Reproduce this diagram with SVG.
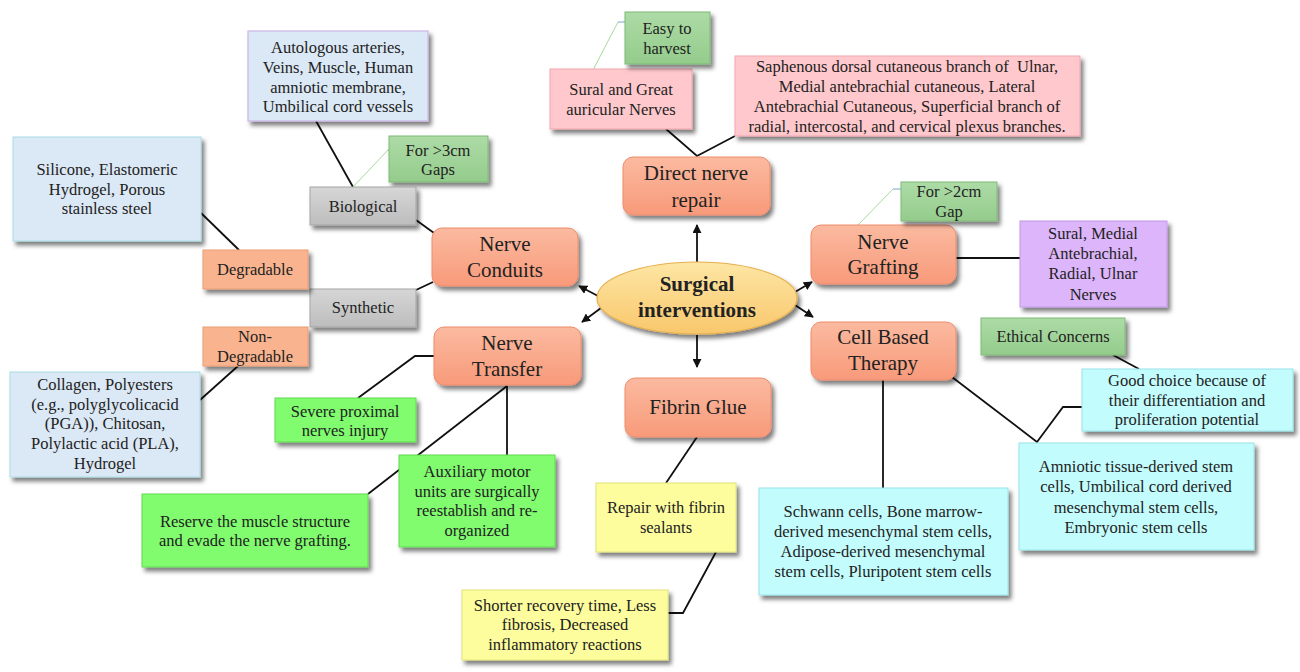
<svg xmlns="http://www.w3.org/2000/svg" width="1300" height="672" viewBox="0 0 1300 672">
<defs>
<filter id="sh" x="-10%" y="-10%" width="125%" height="135%">
<feDropShadow dx="3" dy="4" stdDeviation="2" flood-color="#000" flood-opacity="0.5"/>
</filter>
<linearGradient id="gMain" x1="0" y1="0" x2="0" y2="1"><stop offset="0" stop-color="#fbbaa0"/><stop offset="1" stop-color="#f89a7a"/></linearGradient>
<linearGradient id="gEll" x1="0" y1="0" x2="0" y2="1"><stop offset="0" stop-color="#fde6a4"/><stop offset="1" stop-color="#f9c76c"/></linearGradient>
<linearGradient id="gGreen" x1="0" y1="0" x2="0" y2="1"><stop offset="0" stop-color="#addba6"/><stop offset="1" stop-color="#94cc8c"/></linearGradient>
<linearGradient id="gGray" x1="0" y1="0" x2="0" y2="1"><stop offset="0" stop-color="#d6d6d6"/><stop offset="1" stop-color="#bdbdbd"/></linearGradient>
<marker id="ar" viewBox="0 0 10 10" refX="9" refY="5" markerWidth="9" markerHeight="9" markerUnits="userSpaceOnUse" orient="auto">
<path d="M0,0 L10,5 L0,10 z" fill="#111"/>
</marker>
</defs>
<style>
text{font-family:"Liberation Serif","Times New Roman",serif;fill:#222;text-anchor:middle}
.t{font-size:16.5px}
.m{font-size:21px}
.b{font-size:21px;font-weight:bold}
.main{fill:url(#gMain);stroke:#ee8c6c;stroke-width:1;filter:url(#sh)}
.ell{fill:url(#gEll);stroke:#e6b050;stroke-width:1.2;filter:url(#sh)}
.lblue{fill:#dbe8f5;stroke:#a8dde4;stroke-width:1;filter:url(#sh)}
.green{fill:url(#gGreen);stroke:#7fb977;stroke-width:1;filter:url(#sh)}
.gray{fill:url(#gGray);stroke:#a5a5a5;stroke-width:1;filter:url(#sh)}
.orng{fill:#f9b48f;stroke:#ea9d75;stroke-width:1;filter:url(#sh)}
.pink{fill:#ffc8cc;stroke:#f2a7ae;stroke-width:1;filter:url(#sh)}
.lav{fill:#dcb5fa;stroke:#c29ae8;stroke-width:1;filter:url(#sh)}
.bg{fill:#80fc6e;stroke:#62d752;stroke-width:1;filter:url(#sh)}
.yel{fill:#fdfd9e;stroke:#e2e27a;stroke-width:1;filter:url(#sh)}
.cyan{fill:#c3fcfd;stroke:#98e4ea;stroke-width:1;filter:url(#sh)}
.ln{fill:none;stroke:#111;stroke-width:1.8}
.arw{fill:none;stroke:#111;stroke-width:1.8;marker-end:url(#ar)}
.thin{fill:none;stroke:#a9d8a0;stroke-width:1}
.tick{fill:none;stroke:#8fb4d8;stroke-width:1.2}
</style>
<rect width="1300" height="672" fill="#fff"/>

<g id="connectors">
<line class="arw" x1="697" y1="262" x2="697" y2="225"/>
<line class="arw" x1="697" y1="335" x2="697" y2="367"/>
<line class="arw" x1="598" y1="296" x2="579" y2="286"/>
<line class="arw" x1="601" y1="308" x2="582" y2="322"/>
<line class="arw" x1="795" y1="292" x2="812" y2="282"/>
<line class="arw" x1="795" y1="305" x2="813" y2="317"/>
<polyline class="ln" points="316,121 353,187"/>
<polyline class="thin" points="353,187 388,150"/>
<polyline class="tick" points="388,150 392,150"/>
<polyline class="ln" points="416,220 434,233"/>
<polyline class="ln" points="201,213 239,250"/>
<polyline class="ln" points="416,290 433,282"/>
<polyline class="ln" points="238,366 200,400"/>
<polyline class="ln" points="434,356 415,356 358,398"/>
<polyline class="ln" points="507,386 368,494"/>
<polyline class="ln" points="507,386 507,455"/>
<polyline class="ln" points="697,437 666,483"/>
<polyline class="ln" points="716,552 683,613 668,613"/>
<polyline class="ln" points="666,129 697,156 735,136"/>
<polyline class="thin" points="593,70 618,22"/>
<polyline class="tick" points="618,22 625,22"/>
<polyline class="thin" points="858,225 893,189"/>
<polyline class="tick" points="893,189 901,189"/>
<polyline class="ln" points="955,258 1020,258"/>
<polyline class="ln" points="1113,355 1139,369"/>
<polyline class="ln" points="948,374 1037,442 1063,407 1082,407"/>
<polyline class="ln" points="883,380 883,488"/>
</g>

<g id="center">
<ellipse class="ell" cx="697" cy="298" rx="100" ry="36"/>
<text class="b" x="697" y="291">Surgical</text>
<text class="b" x="697" y="317">interventions</text>
</g>

<g id="direct-nerve-repair">
<rect class="main" x="623" y="157" width="147" height="58" rx="10"/>
<text class="m" x="696" y="180">Direct nerve</text>
<text class="m" x="696" y="207">repair</text>
</g>
<g id="sural-great">
<rect class="pink" x="550" y="69" width="142" height="60"/>
<text class="t" x="621" y="95">Sural and Great</text>
<text class="t" x="621" y="115">auricular Nerves</text>
</g>
<g id="easy-harvest">
<rect class="green" x="625" y="12" width="85" height="52"/>
<text class="t" x="667" y="34">Easy to</text>
<text class="t" x="667" y="54">harvest</text>
</g>
<g id="saphenous">
<rect class="pink" x="735" y="56" width="345" height="80"/>
<text class="t" x="907" y="72" xml:space="preserve">Saphenous dorsal cutaneous branch of  Ulnar,</text>
<text class="t" x="907" y="92">Medial antebrachial cutaneous, Lateral</text>
<text class="t" x="907" y="112">Antebrachial Cutaneous, Superficial branch of</text>
<text class="t" x="907" y="132">radial, intercostal, and cervical plexus branches.</text>
</g>

<g id="nerve-conduits">
<rect class="main" x="432" y="228" width="146" height="58" rx="10"/>
<text class="m" x="505" y="251">Nerve</text>
<text class="m" x="505" y="277">Conduits</text>
</g>
<g id="autologous">
<rect x="248" y="31" width="180" height="90" fill="#dbe8f5" stroke="#cbb6e6" stroke-width="1.2" filter="url(#sh)"/>
<text class="t" x="338" y="53">Autologous arteries,</text>
<text class="t" x="338" y="73">Veins, Muscle, Human</text>
<text class="t" x="338" y="93">amniotic membrane,</text>
<text class="t" x="338" y="112">Umbilical cord vessels</text>
</g>
<g id="gap3">
<rect class="green" x="389" y="136" width="99" height="46"/>
<text class="t" x="438" y="156">For &gt;3cm</text>
<text class="t" x="438" y="175">Gaps</text>
</g>
<g id="biological">
<rect class="gray" x="310" y="187" width="106" height="38"/>
<text class="t" x="363" y="212">Biological</text>
</g>
<g id="synthetic">
<rect class="gray" x="310" y="289" width="106" height="38"/>
<text class="t" x="363" y="313">Synthetic</text>
</g>
<g id="silicone">
<rect class="lblue" x="13" y="137" width="188" height="104"/>
<text class="t" x="107" y="175">Silicone, Elastomeric</text>
<text class="t" x="107" y="195">Hydrogel, Porous</text>
<text class="t" x="107" y="214">stainless steel</text>
</g>
<g id="degradable">
<rect class="orng" x="203" y="250" width="105" height="39"/>
<text class="t" x="255" y="275">Degradable</text>
</g>
<g id="non-degradable">
<rect class="orng" x="203" y="327" width="105" height="39"/>
<text class="t" x="255" y="342">Non-</text>
<text class="t" x="255" y="362">Degradable</text>
</g>
<g id="collagen">
<rect class="lblue" x="10" y="372" width="190" height="105"/>
<text class="t" x="105" y="390">Collagen, Polyesters</text>
<text class="t" x="105" y="410">(e.g., polyglycolicacid</text>
<text class="t" x="105" y="429">(PGA)), Chitosan,</text>
<text class="t" x="105" y="449">Polylactic acid (PLA),</text>
<text class="t" x="105" y="469">Hydrogel</text>
</g>

<g id="nerve-transfer">
<rect class="main" x="434" y="327" width="147" height="58" rx="10"/>
<text class="m" x="507" y="350">Nerve</text>
<text class="m" x="507" y="376">Transfer</text>
</g>
<g id="severe">
<rect class="bg" x="275" y="398" width="141" height="44"/>
<text class="t" x="345" y="417">Severe proximal</text>
<text class="t" x="345" y="436">nerves injury</text>
</g>
<g id="auxiliary">
<rect class="bg" x="399" y="455" width="156" height="92"/>
<text class="t" x="477" y="477">Auxiliary motor</text>
<text class="t" x="477" y="497">units are surgically</text>
<text class="t" x="477" y="516">reestablish and re-</text>
<text class="t" x="477" y="536">organized</text>
</g>
<g id="reserve">
<rect class="bg" x="142" y="494" width="226" height="73"/>
<text class="t" x="255" y="527">Reserve the muscle structure</text>
<text class="t" x="255" y="546">and evade the nerve grafting.</text>
</g>

<g id="fibrin-glue">
<rect class="main" x="625" y="378" width="146" height="59" rx="10"/>
<text class="m" x="698" y="414">Fibrin Glue</text>
</g>
<g id="repair-fibrin">
<rect class="yel" x="596" y="483" width="140" height="69"/>
<text class="t" x="666" y="513">Repair with fibrin</text>
<text class="t" x="666" y="533">sealants</text>
</g>
<g id="shorter">
<rect class="yel" x="462" y="590" width="206" height="70"/>
<text class="t" x="565" y="611">Shorter recovery time, Less</text>
<text class="t" x="565" y="630">fibrosis, Decreased</text>
<text class="t" x="565" y="650">inflammatory reactions</text>
</g>

<g id="nerve-grafting">
<rect class="main" x="811" y="225" width="145" height="59" rx="10"/>
<text class="m" x="883" y="249">Nerve</text>
<text class="m" x="883" y="274">Grafting</text>
</g>
<g id="gap2">
<rect class="green" x="901" y="182" width="96" height="39"/>
<text class="t" x="949" y="197">For &gt;2cm</text>
<text class="t" x="949" y="217">Gap</text>
</g>
<g id="sural-medial">
<rect class="lav" x="1020" y="221" width="147" height="86"/>
<text class="t" x="1093" y="239">Sural, Medial</text>
<text class="t" x="1093" y="259">Antebrachial,</text>
<text class="t" x="1093" y="279">Radial, Ulnar</text>
<text class="t" x="1093" y="300">Nerves</text>
</g>

<g id="cell-based">
<rect class="main" x="811" y="322" width="145" height="58" rx="10"/>
<text class="m" x="883" y="344">Cell Based</text>
<text class="m" x="883" y="370">Therapy</text>
</g>
<g id="ethical">
<rect class="green" x="981" y="318" width="144" height="37"/>
<text class="t" x="1053" y="342">Ethical Concerns</text>
</g>
<g id="good-choice">
<rect class="cyan" x="1082" y="369" width="211" height="62"/>
<text class="t" x="1187" y="386">Good choice because of</text>
<text class="t" x="1187" y="406">their differentiation and</text>
<text class="t" x="1187" y="425">proliferation potential</text>
</g>
<g id="amniotic">
<rect class="cyan" x="1019" y="443" width="235" height="107"/>
<text class="t" x="1136" y="472">Amniotic tissue-derived stem</text>
<text class="t" x="1136" y="492">cells, Umbilical cord derived</text>
<text class="t" x="1136" y="513">mesenchymal stem cells,</text>
<text class="t" x="1136" y="533">Embryonic stem cells</text>
</g>
<g id="schwann">
<rect class="cyan" x="759" y="488" width="249" height="107"/>
<text class="t" x="883" y="517">Schwann cells, Bone marrow-</text>
<text class="t" x="883" y="537">derived mesenchymal stem cells,</text>
<text class="t" x="883" y="557">Adipose-derived mesenchymal</text>
<text class="t" x="883" y="577">stem cells, Pluripotent stem cells</text>
</g>
</svg>
